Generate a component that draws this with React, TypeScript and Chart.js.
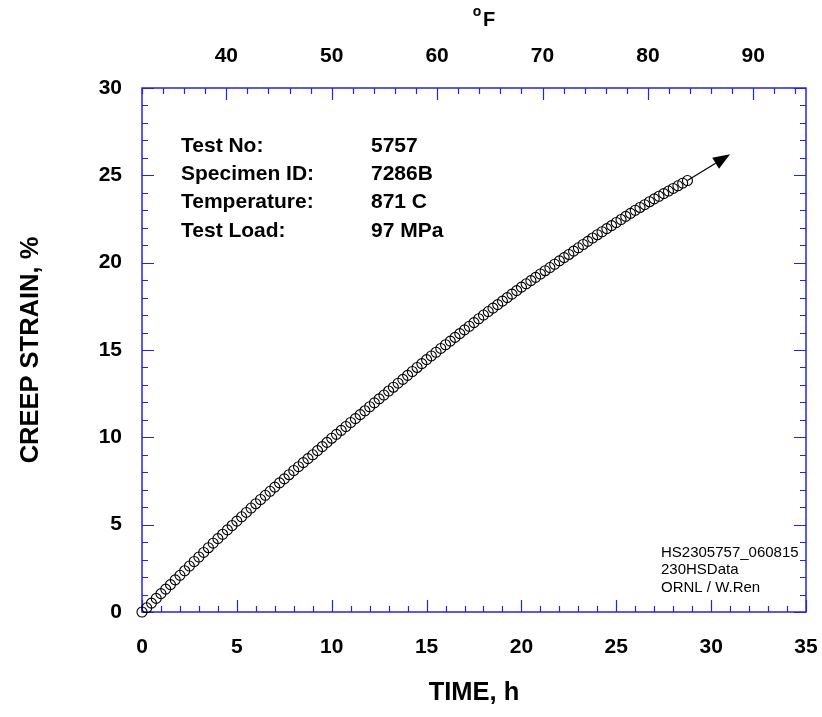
import React, { useEffect, useRef } from 'react';
import { Chart, registerables } from 'chart.js';

Chart.register(...registerables);

// ---- data ----
const timeH = [
  0, 0.25, 0.5, 0.75, 1.0, 1.25, 1.5, 1.75, 2.0, 2.25, 2.5, 2.75, 3.0, 3.25, 3.5, 3.75,
  4.0, 4.25, 4.5, 4.75, 5.0, 5.25, 5.5, 5.75, 6.0, 6.25, 6.5, 6.75, 7.0, 7.25, 7.5, 7.75,
  8.0, 8.25, 8.5, 8.75, 9.0, 9.25, 9.5, 9.75, 10.0, 10.25, 10.5, 10.75, 11.0, 11.25, 11.5, 11.75,
  12.0, 12.25, 12.5, 12.75, 13.0, 13.25, 13.5, 13.75, 14.0, 14.25, 14.5, 14.75, 15.0, 15.25, 15.5, 15.75,
  16.0, 16.25, 16.5, 16.75, 17.0, 17.25, 17.5, 17.75, 18.0, 18.25, 18.5, 18.75, 19.0, 19.25, 19.5, 19.75,
  20.0, 20.25, 20.5, 20.75, 21.0, 21.25, 21.5, 21.75, 22.0, 22.25, 22.5, 22.75, 23.0, 23.25, 23.5, 23.75,
  24.0, 24.25, 24.5, 24.75, 25.0, 25.25, 25.5, 25.75, 26.0, 26.25, 26.5, 26.75, 27.0, 27.25, 27.5, 27.75,
  28.0, 28.25, 28.5, 28.75,
];
const strainPct = [
  0.0, 0.24, 0.51, 0.78, 1.05, 1.31, 1.57, 1.84, 2.1, 2.36, 2.63, 2.89, 3.15, 3.41, 3.68, 3.94,
  4.2, 4.45, 4.7, 4.95, 5.2, 5.45, 5.7, 5.95, 6.2, 6.44, 6.68, 6.91, 7.15, 7.39, 7.62, 7.86,
  8.1, 8.32, 8.55, 8.78, 9.0, 9.24, 9.47, 9.71, 9.95, 10.17, 10.4, 10.62, 10.85, 11.07, 11.3, 11.52,
  11.75, 11.97, 12.2, 12.42, 12.65, 12.87, 13.1, 13.32, 13.55, 13.77, 14.0, 14.22, 14.45, 14.66, 14.87, 15.09,
  15.3, 15.51, 15.72, 15.94, 16.15, 16.36, 16.57, 16.79, 17.0, 17.2, 17.4, 17.6, 17.8, 18.0, 18.2, 18.4,
  18.6, 18.79, 18.97, 19.16, 19.35, 19.54, 19.72, 19.91, 20.1, 20.29, 20.47, 20.66, 20.85, 21.04, 21.22, 21.41,
  21.6, 21.77, 21.95, 22.12, 22.3, 22.47, 22.65, 22.82, 23.0, 23.16, 23.32, 23.49, 23.65, 23.8, 23.95, 24.1,
  24.25, 24.4, 24.55, 24.7,
];

const xLabelTicks = [0, 5, 10, 15, 20, 25, 30, 35];
const yLabelTicks = [0, 5, 10, 15, 20, 25, 30];
const fLabelTicks = [40, 50, 60, 70, 80, 90];

const infoLabels = ['Test No:', 'Specimen ID:', 'Temperature:', 'Test Load:'];
const infoValues = ['5757', '7286B', '871 C', '97 MPa'];
const noteLines = ['HS2305757_060815', '230HSData', 'ORNL / W.Ren'];

const arrowFrom = [28.75, 24.7];
const arrowTo = [31.0, 26.2];

const xTitle = 'TIME, h';
const yTitle = 'CREEP STRAIN, %';
const topTitle = 'F';

// ---- styling ----
const FONT = "'Liberation Sans', Arial, Helvetica, sans-serif";
const AXIS_BLUE = 'rgb(35,35,230)';

const noPad = (s: any) => {
  s.paddingLeft = 0;
  s.paddingRight = 0;
  s.paddingTop = 0;
  s.paddingBottom = 0;
};

const framePlugin = {
  id: 'frame',
  beforeDatasetsDraw(chart: any) {
    const { ctx, chartArea: a, scales } = chart;
    const xs = scales.x, ys = scales.y, fs = scales.x2;
    ctx.save();
    ctx.strokeStyle = AXIS_BLUE;
    ctx.lineWidth = 1.5;
    ctx.strokeRect(a.left, a.top, a.right - a.left, a.bottom - a.top);
    ctx.lineWidth = 1.2;
    ctx.beginPath();
    for (let v = 0; v <= 35; v += 1) {
      const p = Math.round(xs.getPixelForValue(v)) + 0.5;
      const len = v % 5 === 0 ? 12 : 6;
      ctx.moveTo(p, a.bottom); ctx.lineTo(p, a.bottom - len);
    }
    for (let v = 0; v <= 30; v += 1) {
      const p = Math.round(ys.getPixelForValue(v)) + 0.5;
      const len = v % 5 === 0 ? 12 : 6;
      ctx.moveTo(a.left, p); ctx.lineTo(a.left + len, p);
      ctx.moveTo(a.right, p); ctx.lineTo(a.right - len, p);
    }
    for (let v = 32; v <= 95; v += 2) {
      const p = Math.round(fs.getPixelForValue(v)) + 0.5;
      const len = v % 10 === 0 ? 12 : 6;
      ctx.moveTo(p, a.top); ctx.lineTo(p, a.top + len);
    }
    ctx.stroke();
    ctx.restore();
  },
  afterDraw(chart: any) {
    const { ctx, chartArea: a, scales } = chart;
    const xs = scales.x, ys = scales.y;
    ctx.save();
    ctx.fillStyle = '#000';
    ctx.font = `bold 25.5px ${FONT}`;
    ctx.textAlign = 'center';
    ctx.textBaseline = 'middle';
    ctx.fillText(xTitle, (a.left + a.right) / 2, 693);
    ctx.save();
    ctx.translate(31, (a.top + a.bottom) / 2);
    ctx.rotate(-Math.PI / 2);
    ctx.fillText(yTitle, 0, 0);
    ctx.restore();
    ctx.font = `bold 14px ${FONT}`;
    ctx.fillText('o', 477, 12);
    ctx.font = `bold 20px ${FONT}`;
    ctx.fillText(topTitle, 489, 20);

    ctx.font = `bold 21px ${FONT}`;
    ctx.textAlign = 'left';
    ctx.textBaseline = 'alphabetic';
    infoLabels.forEach((t, i) => ctx.fillText(t, 181, 151.5 + i * 28.4));
    infoValues.forEach((t, i) => ctx.fillText(t, 371, 151.5 + i * 28.4));

    ctx.font = `15px ${FONT}`;
    noteLines.forEach((t, i) => ctx.fillText(t, 661, 557 + i * 17.3));

    const x0 = xs.getPixelForValue(arrowFrom[0]);
    const y0 = ys.getPixelForValue(arrowFrom[1]);
    const x1 = xs.getPixelForValue(arrowTo[0]);
    const y1 = ys.getPixelForValue(arrowTo[1]);
    const ang = Math.atan2(y1 - y0, x1 - x0);
    const hl = 17, hw = 6.5;
    const bx = x1 - hl * Math.cos(ang), by = y1 - hl * Math.sin(ang);
    ctx.strokeStyle = '#000';
    ctx.lineWidth = 1.2;
    ctx.beginPath();
    ctx.moveTo(x0, y0);
    ctx.lineTo(bx, by);
    ctx.stroke();
    ctx.beginPath();
    ctx.moveTo(x1, y1);
    ctx.lineTo(bx + hw * Math.sin(ang), by - hw * Math.cos(ang));
    ctx.lineTo(bx - hw * Math.sin(ang), by + hw * Math.cos(ang));
    ctx.closePath();
    ctx.fill();
    ctx.restore();
  },
};

export default function App() {
  const ref = useRef<HTMLCanvasElement | null>(null);
  useEffect(() => {
    if (!ref.current) return;
    const tickFont = { family: FONT, size: 21, weight: 'bold' as const };
    const chart = new Chart(ref.current, {
      type: 'scatter',
      data: {
        datasets: [
          {
            data: timeH.map((t, i) => ({ x: t, y: strainPct[i] })),
            xAxisID: 'x',
            yAxisID: 'y',
            showLine: false,
            pointStyle: 'circle',
            pointRadius: 5,
            pointBorderWidth: 1.1,
            pointBorderColor: '#000',
            pointBackgroundColor: 'rgba(0,0,0,0)',
            clip: false as any,
          },
        ],
      },
      options: {
        responsive: false,
        animation: false,
        events: [],
        layout: { padding: { left: 0, right: 16, top: 0, bottom: 0 } },
        plugins: { legend: { display: false }, tooltip: { enabled: false } },
        scales: {
          x: {
            type: 'linear',
            position: 'bottom',
            min: 0,
            max: 35,
            grid: { display: false, drawTicks: false },
            border: { display: false },
            afterBuildTicks: (s: any) => { s.ticks = xLabelTicks.map((v) => ({ value: v })); },
            afterFit: (s: any) => { s.height = 105; noPad(s); },
            ticks: { font: tickFont, color: '#000', padding: 23, maxRotation: 0, autoSkip: false },
          },
          x2: {
            type: 'linear',
            axis: 'x',
            position: 'top',
            min: 32,
            max: 95,
            grid: { display: false, drawTicks: false },
            border: { display: false },
            afterBuildTicks: (s: any) => { s.ticks = fLabelTicks.map((v) => ({ value: v })); },
            afterFit: (s: any) => { s.height = 88; noPad(s); },
            ticks: { font: tickFont, color: '#000', padding: 19, maxRotation: 0, autoSkip: false },
          },
          y: {
            type: 'linear',
            position: 'left',
            min: 0,
            max: 30,
            grid: { display: false, drawTicks: false },
            border: { display: false },
            afterBuildTicks: (s: any) => { s.ticks = yLabelTicks.map((v) => ({ value: v })); },
            afterFit: (s: any) => { s.width = 142; noPad(s); },
            ticks: { font: tickFont, color: '#000', padding: 20, autoSkip: false },
          },
        } as any,
      },
      plugins: [framePlugin],
    });
    return () => chart.destroy();
  }, []);

  return (
    <div style={{ position: 'absolute', left: 0, top: 0, width: 822, height: 717, background: '#fff' }}>
      <canvas ref={ref} width={822} height={717} style={{ display: 'block', width: 822, height: 717 }} />
    </div>
  );
}
